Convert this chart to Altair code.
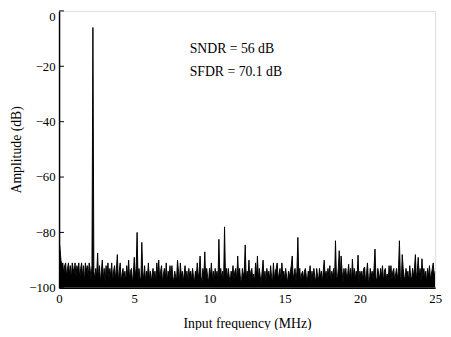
import altair as alt
import pandas as pd

# Frequency bins (MHz): 0 .. 25 in steps of 0.0625 -> 401 bins
step_mhz = 0.0625
amplitude_db = [
    -82, -86, -90, -92, -91, -95, -92, -91, -96, -93, -91, -95, -92, -97, -91, -93, -95, -91, -96, -92,
    -94, -91, -97, -93, -91, -96, -92, -98, -91, -94, -92, -96, -91, -93, -97, -92, -6, -94, -97, -93,
    -96, -87.4, -97, -92, -98, -94, -90, -97, -93, -98, -92, -96, -91, -97, -93, -96, -91, -98, -94, -92,
    -97, -93, -88, -98, -94, -91, -98, -95, -93, -97, -94, -98, -92, -96, -90, -97, -94, -93, -98, -95,
    -89, -96, -93, -80, -97, -93, -96, -98, -83.6, -94, -97, -92, -98, -94, -96, -91, -97, -94, -98, -95,
    -93, -97, -94, -98, -91, -96, -90, -97, -94, -92, -98, -95, -93, -97, -91, -98, -94, -96, -92, -97,
    -92, -96, -98, -94, -96, -97, -90, -94, -98, -91, -96, -94, -98, -95, -92, -97, -94, -98, -93, -96,
    -94, -97, -93, -96, -98, -94, -96, -91, -97, -94, -88.5, -96, -98, -93, -96, -87, -97, -93, -96, -98,
    -93, -96, -91, -97, -94, -98, -93, -96, -94, -98, -82.5, -96, -93, -97, -94, -98, -78, -96, -93, -97,
    -93, -96, -98, -94, -96, -92, -97, -94, -93, -98, -88.5, -96, -93, -97, -98, -93, -96, -94, -84.5, -97,
    -94, -96, -90, -98, -94, -93, -97, -95, -98, -91, -96, -88.5, -97, -93, -96, -98, -94, -90, -97, -94,
    -98, -93, -96, -94, -97, -92, -96, -98, -91, -97, -94, -93, -91, -97, -95, -93, -98, -91, -96, -94,
    -97, -93, -96, -98, -94, -96, -94, -92, -88.5, -97, -95, -93, -98, -94, -81.8, -96, -93, -98, -95, -94,
    -97, -94, -93, -96, -98, -94, -96, -92, -98, -94, -97, -93, -96, -98, -93, -96, -97, -93, -96, -94,
    -98, -94, -90, -96, -94, -97, -93, -96, -92, -98, -94, -96, -93, -98, -83, -96, -97, -93, -86.6, -96,
    -88.5, -94, -98, -93, -96, -93, -97, -95, -91.5, -97, -93, -98, -89.6, -96, -93, -97, -94, -96, -88.2, -98,
    -94, -96, -94, -97, -93, -92.5, -98, -95, -91, -97, -98, -93, -96, -94, -97, -93, -86, -96, -98, -93,
    -95, -97, -93, -96, -92, -98, -94, -93, -97, -95, -98, -92, -96, -92, -97, -94, -93, -98, -95, -93,
    -97, -94, -83, -96, -98, -88, -93, -96, -97, -93, -96, -94, -98, -92, -96, -97, -93, -96, -93, -88,
    -97, -94, -89, -96, -93, -98, -89.5, -96, -93, -97, -94, -98, -93, -96, -92, -97, -95, -93, -91, -96,
    -94,
]
freq_mhz = [i * step_mhz for i in range(len(amplitude_db))]

x_ticks = [0, 5, 10, 15, 20, 25]
y_ticks = [0, -20, -40, -60, -80, -100]
annotations = ["SNDR = 56 dB", "SFDR = 70.1 dB"]

df = pd.DataFrame({"f": freq_mhz, "a": amplitude_db})
FONT = "Liberation Serif"

x_scale = alt.Scale(domain=[0, 25], nice=False, zero=False)
y_scale = alt.Scale(domain=[-100, 0], nice=False, clamp=True)

x_enc = alt.X("f:Q", scale=x_scale,
              axis=alt.Axis(values=x_ticks, title="Input frequency (MHz)", tickSize=0,
                            labelPadding=5, titlePadding=11, grid=False, domainColor="black",
                            domainWidth=1.5, labelFont=FONT, titleFont=FONT, labelFontSize=13,
                            titleFontSize=14, titleFontWeight="normal", labelColor="black",
                            titleColor="black", labelFlush=False))
y_enc = alt.Y("a:Q", scale=y_scale,
              axis=alt.Axis(values=y_ticks, title="Amplitude (dB)", tickSize=0,
                            labelPadding=4, titlePadding=5, grid=False, domainColor="black",
                            domainWidth=1.5, labelFont=FONT, titleFont=FONT, labelFontSize=13,
                            titleFontSize=14, titleFontWeight="normal", labelColor="black",
                            titleColor="black", labelFlush=False,
                            labelBaseline=alt.expr("datum.value == 0 ? 'top' : 'middle'")))

base = alt.Chart(df)
area = base.mark_area(color="black", opacity=1, clip=True).encode(
    x=x_enc, y=y_enc, y2=alt.datum(-100)
)
line = base.mark_line(color="black", strokeWidth=1, clip=True).encode(x=x_enc, y=y_enc)

ytick_df = pd.DataFrame({"a": y_ticks})
yticks = alt.Chart(ytick_df).mark_rule(color="black", strokeWidth=1).encode(
    y=alt.Y("a:Q", scale=y_scale),
    x=alt.value(0),
    x2=alt.value(5),
)

text_df = pd.DataFrame({"t": annotations, "row": [0, 1]})
text1 = alt.Chart(text_df).transform_filter("datum.row == 0").mark_text(
    align="left", baseline="middle", font=FONT, fontSize=14, color="black"
).encode(text="t:N", x=alt.value(133), y=alt.value(39))
text2 = alt.Chart(text_df).transform_filter("datum.row == 1").mark_text(
    align="left", baseline="middle", font=FONT, fontSize=14, color="black"
).encode(text="t:N", x=alt.value(133), y=alt.value(62))

chart = alt.layer(area, line, yticks, text1, text2).properties(
    width=383,
    height=282,
    autosize=alt.AutoSizeParams(type="none"),
    padding={"left": 52, "top": 0, "right": 8, "bottom": 40},
).configure_view(stroke="black", strokeWidth=1.5).configure(background="white")

chart.save("out.html", embed_options={"renderer": "svg", "actions": False})
